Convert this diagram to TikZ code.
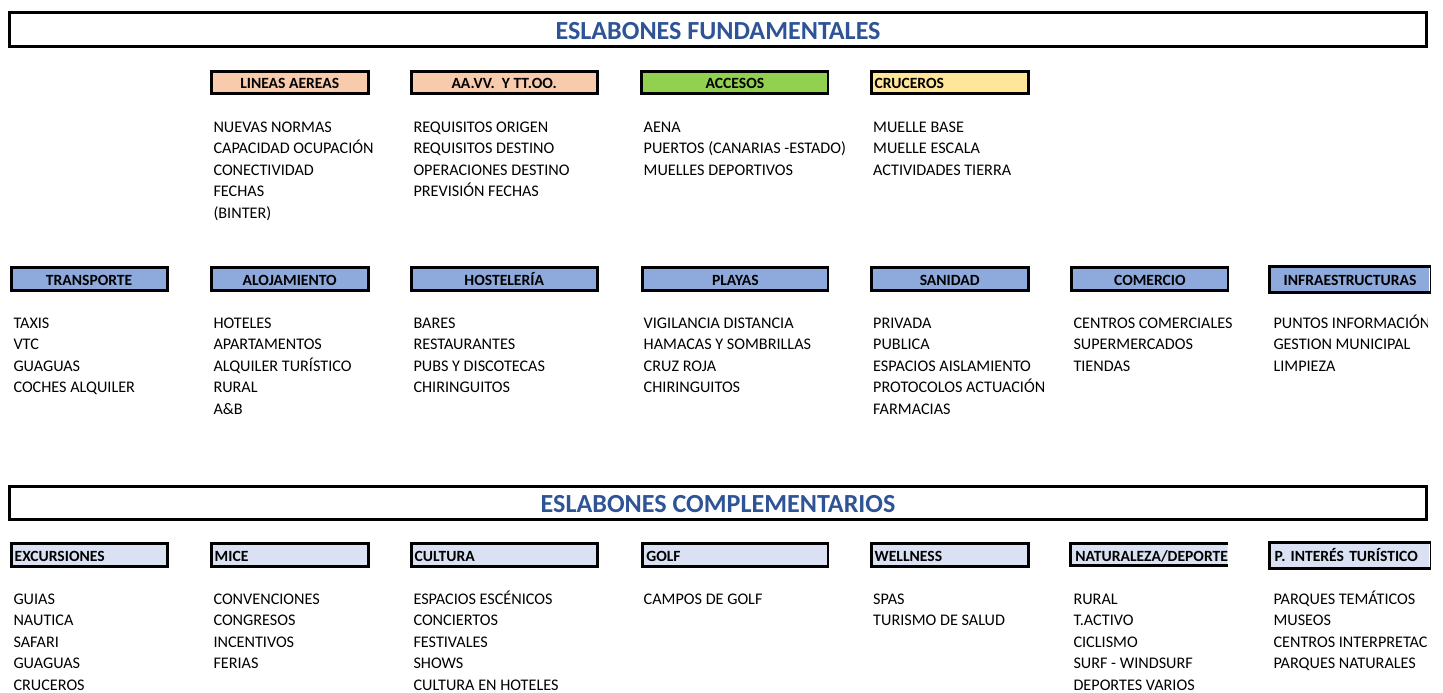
\documentclass[tikz,border=0pt]{standalone}
\usepackage{fontspec}
\setmainfont{Carlito}
\frenchspacing
\definecolor{ttl}{RGB}{47,84,150}
\definecolor{salmon}{RGB}{248,203,173}
\definecolor{lgreen}{RGB}{146,208,80}
\definecolor{lyellow}{RGB}{255,230,153}
\definecolor{mblue}{RGB}{142,169,219}
\definecolor{pblue}{RGB}{217,225,242}
\newcommand\lst[4]{\foreach \itm [count=\i] in {#4} {\node[item] (#1-\i) at (#2,{#3+21.5*(\i-1)}) {\itm};}}
\begin{document}
\begin{tikzpicture}[x=1pt,y=-1pt,
  item/.style={inner sep=0pt, anchor=base west, font=\fontsize{16.2}{19}\selectfont},
  hdr/.style={draw, line width=2.8pt, inner sep=0pt, anchor=north west,
    font=\bfseries\fontsize{15.6}{18}\selectfont, text height=12.4pt, text depth=0pt},
  hdrl/.style={hdr, inner xsep=3.6pt, align=left},
  bigbox/.style={draw, line width=2.8pt, inner sep=0pt, text=ttl,
    font=\bfseries\fontsize{26.1}{31}\selectfont, text height=18.9pt, text depth=0pt,
    minimum width=1416.6pt}]
\useasboundingbox (0,0) rectangle (1443,693);

% titles
\node[bigbox, minimum height=34.2pt] (t1) at (718,29.8) {ESLABONES FUNDAMENTALES};
\node[bigbox, minimum height=33.2pt] (t2) at (718,502.7) {ESLABONES COMPLEMENTARIOS};

% row 1 headers
\node[hdr, fill=salmon, minimum width=157.2pt, minimum height=21.5pt] (h11) at (209.7,70.4) {LINEAS AEREAS};
\node[hdr, fill=salmon, minimum width=186.2pt, minimum height=21.5pt] (h12) at (409.7,70.4) {AA.VV.\ \ Y TT.OO.};
\node[hdr, fill=lgreen, minimum width=186.2pt, minimum height=21.5pt] (h13) at (640.4,70.4) {ACCESOS};
\node[hdrl, fill=lyellow, minimum width=157.2pt, text width=150pt, minimum height=21.5pt] (h14) at (869.7,70.4) {\mbox{CRUCEROS}};

% row 2 headers
\foreach \nm/\x/\w/\tx in {h21/9.7/156/TRANSPORTE, h22/209.7/157.2/ALOJAMIENTO, h23/409.7/186.2/HOSTELERÍA,
  h24/641.4/185.2/PLAYAS, h25/869.7/157.2/SANIDAD, h26/1070.4/156.2/COMERCIO}
  {\node[hdr, fill=mblue, minimum width=\w pt, minimum height=22.9pt] (\nm) at (\x,266.4) {\tx};}
\node[hdr, draw=none, fill=mblue, minimum width=157.9pt, minimum height=22.9pt] (h27) at (1269.7,266.4) {INFRAESTRUCTURAS};
\draw[line width=2.8pt] (h27.north east) -- (h27.north west) -- (h27.south west) -- (h27.south east);
\draw[line width=1.2pt] ([yshift=1.4pt]h27.north east) -- ([yshift=-1.4pt]h27.south east);

% row 3 headers
\foreach \nm/\x/\w/\tx in {h31/9.7/156/EXCURSIONES, h32/209.7/157.2/MICE, h33/409.7/186.2/CULTURA,
  h34/641.4/185.2/GOLF, h35/869.7/157.2/WELLNESS}
  {\pgfmathsetmacro\tw{\w-7.2}
   \node[hdrl, fill=pblue, minimum width=\w pt, text width=\tw pt, minimum height=22.9pt] (\nm) at (\x,542.4) {\mbox{\tx}};}
\begin{scope}
\clip (1060,530) rectangle (1227.5,580);
\node[hdrl, draw=none, fill=pblue, minimum width=160pt, text width=152.8pt, minimum height=22.9pt] (h36) at (1070.4,542.4) {\mbox{NATURALEZA/DEPORTE}};
\end{scope}
\draw[line width=2.8pt] (1227.5,543.8) -- (1070.4,543.8) -- (1070.4,565.3) -- (1227.5,565.3);
\node[hdrl, draw=none, fill=pblue, minimum width=157.9pt, text width=150.7pt, minimum height=22.9pt] (h37) at (1269.7,542.4) {\mbox{P. INTERÉS TURÍSTICO}};
\draw[line width=2.8pt] (h37.north east) -- (h37.north west) -- (h37.south west) -- (h37.south east);
\draw[line width=1.2pt] ([yshift=1.4pt]h37.north east) -- ([yshift=-1.4pt]h37.south east);

% row 1 lists
\lst{a2}{213.3}{132}{NUEVAS NORMAS,CAPACIDAD OCUPACIÓN,CONECTIVIDAD,FECHAS,{(BINTER)}}
\lst{a3}{413.3}{132}{REQUISITOS ORIGEN,REQUISITOS DESTINO,OPERACIONES DESTINO,PREVISIÓN FECHAS}
\lst{a4}{643.5}{132}{AENA,{PUERTOS (CANARIAS -ESTADO)},MUELLES DEPORTIVOS}
\lst{a5}{873}{132}{MUELLE BASE,MUELLE ESCALA,ACTIVIDADES TIERRA}

% row 2 lists
\lst{b1}{13.3}{328}{TAXIS,VTC,GUAGUAS,COCHES ALQUILER}
\lst{b2}{213.3}{328}{HOTELES,APARTAMENTOS,ALQUILER TURÍSTICO,RURAL,A\&B}
\lst{b3}{413.3}{328}{BARES,RESTAURANTES,PUBS Y DISCOTECAS,CHIRINGUITOS}
\lst{b4}{643.5}{328}{VIGILANCIA DISTANCIA,HAMACAS Y SOMBRILLAS,CRUZ ROJA,CHIRINGUITOS}
\lst{b5}{873}{328}{PRIVADA,PUBLICA,ESPACIOS AISLAMIENTO,PROTOCOLOS ACTUACIÓN,FARMACIAS}
\lst{b6}{1073.3}{328}{CENTROS COMERCIALES,SUPERMERCADOS,TIENDAS}
\begin{scope}
\clip (1260,300) rectangle (1427.5,430);
\lst{b7}{1273.3}{328}{PUNTOS INFORMACIÓN,GESTION MUNICIPAL,LIMPIEZA}
\end{scope}

% row 3 lists
\lst{c1}{13.3}{604}{GUIAS,NAUTICA,SAFARI,GUAGUAS,CRUCEROS}
\lst{c2}{213.3}{604}{CONVENCIONES,CONGRESOS,INCENTIVOS,FERIAS}
\lst{c3}{413.3}{604}{ESPACIOS ESCÉNICOS,CONCIERTOS,FESTIVALES,SHOWS,CULTURA EN HOTELES}
\lst{c4}{643.5}{604}{CAMPOS DE GOLF}
\lst{c5}{873}{604}{SPAS,TURISMO DE SALUD}
\lst{c6}{1073.3}{604}{RURAL,T.ACTIVO,CICLISMO,SURF - WINDSURF,DEPORTES VARIOS}
\begin{scope}
\clip (1260,580) rectangle (1427.5,693);
\lst{c7}{1273.3}{604}{PARQUES TEMÁTICOS,MUSEOS,CENTROS INTERPRETAC,PARQUES NATURALES}
\end{scope}
\end{tikzpicture}
\end{document}
